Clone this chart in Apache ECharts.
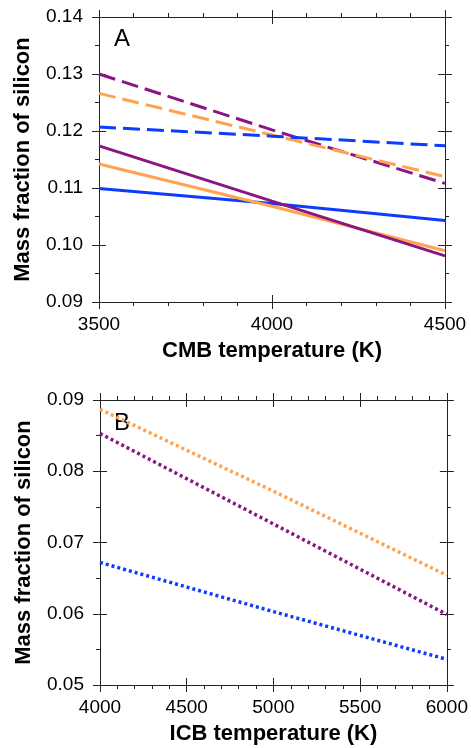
<!DOCTYPE html>
<html><head><meta charset="utf-8">
<script src="https://cdn.jsdelivr.net/npm/echarts@6/dist/echarts.min.js"></script>
<style>html,body{margin:0;padding:0;background:#fff}#c{width:471px;height:748px}</style>
</head><body><div id="c"></div>
<script>
// Panel A: CMB temperature (K)
const cmbTemp = [3500, 4000, 4500];
const aPurpleDashed = [0.1300, 0.1202, 0.1108];
const aOrangeDashed = [0.1266, 0.1193, 0.1120];
const aBlueDashed   = [0.1207, 0.1191, 0.1174];
const aPurpleSolid  = [0.1174, 0.1077, 0.0981];
const aOrangeSolid  = [0.1142, 0.1068, 0.0990];
const aBlueSolid    = [0.1099, 0.1073, 0.1043];
// Panel B: ICB temperature (K)
const icbTemp = [4000, 5000, 6000];
const bOrangeDotted = [0.0887, 0.0772, 0.0654];
const bPurpleDotted = [0.0853, 0.0726, 0.0599];
const bBlueDotted   = [0.0672, 0.0603, 0.0536];

const PURPLE = '#8a1583', ORANGE = '#ffa34f', BLUE = '#0d3cff';
const FONT = 'Liberation Sans, Arial, Helvetica, sans-serif';
const AX = '#222';

function pairs(xs, ys){ return xs.map((x,i)=>[x, ys[i]]); }

const grids = [
  {left: 99, top: 17, width: 346, height: 285},
  {left: 100, top: 400, width: 348, height: 285}
];

const xCfg = [
  {min: 3500, max: 4500, interval: 500, minorSplit: 5, name: 'CMB temperature (K)'},
  {min: 4000, max: 6000, interval: 500, minorSplit: 5, name: 'ICB temperature (K)'}
];
const yCfg = [
  {min: 0.09, max: 0.14, interval: 0.01},
  {min: 0.05, max: 0.09, interval: 0.01}
];

const xAxes = [], yAxes = [];
function baseX(g, pos, labels, inside){
  const c = xCfg[g];
  return {
    type: 'value', gridIndex: g, position: pos, min: c.min, max: c.max, interval: c.interval,
    axisLine: {show: !inside, onZero: false, lineStyle: {color: AX, width: 1}},
    axisTick: {show: true, inside: inside, length: 7, lineStyle: {color: AX, width: 1}},
    minorTick: {show: !inside, splitNumber: c.minorSplit, length: 4, lineStyle: {color: AX, width: 1}},
    splitLine: {show: false},
    axisLabel: {show: labels, color: '#000', fontSize: 19, fontFamily: FONT, margin: 13,
      formatter: v => String(Math.round(v))},
    name: labels ? c.name : '', nameLocation: 'middle', nameGap: 38,
    nameTextStyle: {color: '#000', fontSize: 22, fontWeight: 'bold', fontFamily: FONT}
  };
}
function baseY(g, pos, labels, inside){
  const c = yCfg[g];
  return {
    type: 'value', gridIndex: g, position: pos, min: c.min, max: c.max, interval: c.interval,
    axisLine: {show: !inside, onZero: false, lineStyle: {color: AX, width: 1}},
    axisTick: {show: true, inside: inside, length: 7, lineStyle: {color: AX, width: 1}},
    minorTick: {show: !inside, splitNumber: 2, length: 4, lineStyle: {color: AX, width: 1}},
    splitLine: {show: false},
    axisLabel: {show: labels, color: '#000', fontSize: 19, fontFamily: FONT, margin: 16,
      formatter: v => v.toFixed(2)},
    name: labels ? 'Mass fraction of silicon' : '', nameLocation: 'middle', nameGap: 65, nameRotate: 90,
    nameTextStyle: {color: '#000', fontSize: 22, fontWeight: 'bold', fontFamily: FONT}
  };
}
for (let g = 0; g < 2; g++){
  xAxes.push(baseX(g, 'bottom', true, false));
  xAxes.push(baseX(g, 'bottom', false, true));
  xAxes.push(baseX(g, 'top', false, false));
  xAxes.push(baseX(g, 'top', false, true));
  yAxes.push(baseY(g, 'left', true, false));
  yAxes.push(baseY(g, 'left', false, true));
  yAxes.push(baseY(g, 'right', false, false));
  yAxes.push(baseY(g, 'right', false, true));
}

function line(g, xs, ys, color, type, width){
  return {
    type: 'line', xAxisIndex: 4*g, yAxisIndex: 4*g, data: pairs(xs, ys),
    symbol: 'none', silent: true, animation: false, z: 3,
    lineStyle: {color: color, width: width || 3, type: type, cap: 'butt'}
  };
}

const series = [
  line(0, cmbTemp, aPurpleDashed, PURPLE, [17, 7]),
  line(0, cmbTemp, aOrangeDashed, ORANGE, [17, 7]),
  line(0, cmbTemp, aBlueDashed, BLUE, [17, 7]),
  line(0, cmbTemp, aBlueSolid, BLUE, 'solid'),
  line(0, cmbTemp, aOrangeSolid, ORANGE, 'solid'),
  line(0, cmbTemp, aPurpleSolid, PURPLE, 'solid'),
  line(1, icbTemp, bOrangeDotted, ORANGE, [3, 3], 3.5),
  line(1, icbTemp, bPurpleDotted, PURPLE, [3, 3], 3.5),
  line(1, icbTemp, bBlueDotted, BLUE, [3, 3], 3.5)
];

const chart = echarts.init(document.getElementById('c'), null, {renderer: 'canvas'});
chart.setOption({
  animation: false,
  backgroundColor: '#fff',
  grid: grids,
  xAxis: xAxes,
  yAxis: yAxes,
  series: series,
  graphic: [
    {type: 'text', left: 114, top: 27, style: {text: 'A', fontSize: 24, fontFamily: FONT, fill: '#000'}},
    {type: 'text', left: 114, top: 411, style: {text: 'B', fontSize: 24, fontFamily: FONT, fill: '#000'}}
  ]
});
</script>
</body></html>
